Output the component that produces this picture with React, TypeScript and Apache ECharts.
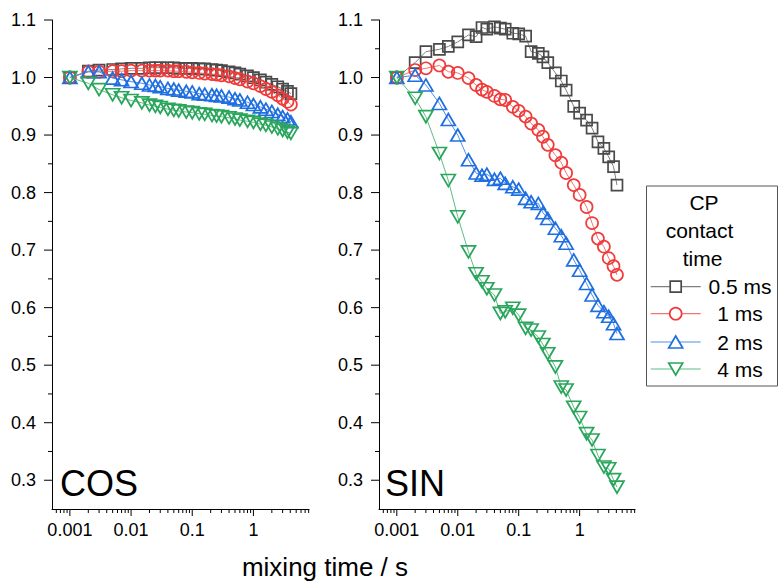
import React, { useEffect, useRef } from "react";
import * as echarts from "echarts";

// ---- data ----
const mixingTime = [0.001, 0.002, 0.003, 0.005, 0.007, 0.01, 0.015, 0.02, 0.025, 0.03, 0.04, 0.05, 0.06, 0.08, 0.1, 0.13, 0.16, 0.21, 0.25, 0.3, 0.4, 0.5, 0.6, 0.8, 1.0, 1.3, 1.6, 2.0, 2.5, 3.0, 3.6, 4.1];

const cos05 = [1.0, 1.011, 1.013, 1.014, 1.015, 1.016, 1.016, 1.017, 1.017, 1.017, 1.017, 1.017, 1.016, 1.016, 1.016, 1.015, 1.015, 1.014, 1.013, 1.012, 1.010, 1.008, 1.006, 1.003, 1.000, 0.996, 0.992, 0.988, 0.984, 0.980, 0.976, 0.972];
const cos1 = [1.0, 1.010, 1.010, 1.011, 1.011, 1.012, 1.012, 1.012, 1.012, 1.012, 1.012, 1.011, 1.011, 1.010, 1.009, 1.008, 1.007, 1.006, 1.005, 1.004, 1.002, 0.999, 0.997, 0.993, 0.990, 0.985, 0.980, 0.975, 0.969, 0.963, 0.958, 0.953];
const cos2 = [1.0, 1.010, 1.010, 0.999, 0.996, 0.993, 0.990, 0.987, 0.986, 0.984, 0.981, 0.980, 0.978, 0.976, 0.975, 0.972, 0.971, 0.970, 0.969, 0.968, 0.966, 0.963, 0.961, 0.957, 0.953, 0.949, 0.945, 0.941, 0.936, 0.932, 0.928, 0.923];
const cos4 = [1.0, 0.990, 0.979, 0.970, 0.965, 0.960, 0.956, 0.952, 0.950, 0.948, 0.945, 0.943, 0.942, 0.940, 0.939, 0.937, 0.936, 0.934, 0.933, 0.932, 0.930, 0.928, 0.926, 0.924, 0.922, 0.919, 0.917, 0.914, 0.911, 0.908, 0.905, 0.903];

const sin05 = [1.0, 1.026, 1.045, 1.049, 1.054, 1.062, 1.074, 1.071, 1.087, 1.084, 1.088, 1.086, 1.084, 1.077, 1.076, 1.072, 1.045, 1.042, 1.036, 1.026, 1.008, 0.994, 0.978, 0.950, 0.938, 0.926, 0.912, 0.888, 0.877, 0.862, 0.845, 0.813];
const sin1 = [1.0, 1.013, 1.016, 1.021, 1.010, 1.008, 0.999, 0.987, 0.979, 0.975, 0.968, 0.962, 0.961, 0.949, 0.942, 0.932, 0.920, 0.909, 0.897, 0.883, 0.865, 0.852, 0.834, 0.813, 0.796, 0.775, 0.747, 0.720, 0.706, 0.686, 0.672, 0.657];
const sin2 = [1.0, 1.004, 0.987, 0.955, 0.927, 0.900, 0.857, 0.834, 0.830, 0.832, 0.823, 0.825, 0.816, 0.810, 0.806, 0.790, 0.784, 0.781, 0.765, 0.755, 0.738, 0.725, 0.712, 0.683, 0.665, 0.642, 0.622, 0.604, 0.593, 0.585, 0.572, 0.555];
const sin4 = [1.0, 0.964, 0.932, 0.868, 0.821, 0.758, 0.697, 0.659, 0.645, 0.633, 0.622, 0.590, 0.593, 0.599, 0.587, 0.564, 0.561, 0.549, 0.536, 0.520, 0.497, 0.462, 0.457, 0.427, 0.409, 0.381, 0.370, 0.343, 0.323, 0.320, 0.301, 0.288];

const seriesNames = ["0.5 ms", "1 ms", "2 ms", "4 ms"];
const panelNames = ["COS", "SIN"];
const legendTitle = ["CP", "contact", "time"];
const xTickValues = [0.001, 0.01, 0.1, 1];
const xTickLabels = ["0.001", "0.01", "0.1", "1"];
const yTickValues = [0.3, 0.4, 0.5, 0.6, 0.7, 0.8, 0.9, 1.0, 1.1];
const xAxisTitle = "mixing time / s";

// ---- axis ranges ----
const X_MIN = 0.00051;
const X_MAX = 8.1;
const Y_MIN = 0.25;
const Y_MAX = 1.1;

const FONT = '"Liberation Sans", Arial, Helvetica, sans-serif';

const styles = [
  { symbol: "rect", size: 11, rotate: 0, color: "#4a4a4a", line: "#808080" },
  { symbol: "circle", size: 12, rotate: 0, color: "#f03b3b", line: "#f07575" },
  { symbol: "triangle", size: [14, 12], rotate: 0, color: "#1f6fe0", line: "#4f8de8" },
  { symbol: "triangle", size: [14, 12], rotate: 180, color: "#2aa55c", line: "#5cbd82" },
];

const panelData = [
  [cos05, cos1, cos2, cos4],
  [sin05, sin1, sin2, sin4],
];

const grids = [
  { left: 52, top: 20, width: 257, height: 489 },
  { left: 379, top: 20, width: 256, height: 489 },
];

function buildTicks() {
  const d: number[][] = [];
  xTickValues.forEach((v) => d.push([v, Y_MIN, 0]));
  for (let k = -4; k <= 0; k++) {
    for (let m = 2; m <= 9; m++) {
      const v = m * Math.pow(10, k);
      if (v > X_MIN && v < X_MAX) d.push([v, Y_MIN, 1]);
    }
  }
  yTickValues.forEach((v) => d.push([X_MIN, v, 2]));
  for (let i = 0; i < yTickValues.length - 1; i++) {
    d.push([X_MIN, (yTickValues[i] + yTickValues[i + 1]) / 2, 3]);
  }
  return d;
}

function buildOption() {
  const tickData = buildTicks();
  const xAxis = grids.map((_, g) => ({
    type: "log",
    logBase: 10,
    gridIndex: g,
    min: X_MIN,
    max: X_MAX,
    axisLine: { show: true, onZero: false, lineStyle: { color: "#000", width: 1 } },
    axisTick: { show: false },
    minorTick: { show: false },
    splitLine: { show: false },
    axisLabel: {
      fontSize: 18,
      fontFamily: FONT,
      color: "#000",
      margin: 12,
      formatter: (v: number) => {
        const l = Math.log10(v);
        const r = Math.round(l);
        if (Math.abs(l - r) < 1e-6) {
          const idx = xTickValues.findIndex((t) => Math.abs(Math.log10(t) - r) < 1e-6);
          return idx >= 0 ? xTickLabels[idx] : "";
        }
        return "";
      },
    },
  }));
  const yAxis = grids.map((_, g) => ({
    type: "value",
    gridIndex: g,
    min: Y_MIN,
    max: Y_MAX,
    interval: 0.05,
    axisLine: { show: true, lineStyle: { color: "#000", width: 1 } },
    axisTick: { show: false },
    splitLine: { show: false },
    axisLabel: {
      fontSize: 18,
      fontFamily: FONT,
      color: "#000",
      margin: 16,
      formatter: (v: number) => {
        const k = Math.round(v * 10);
        if (Math.abs(v * 10 - k) < 1e-6) return (k / 10).toFixed(1);
        return "";
      },
    },
  }));

  const series: any[] = [];
  grids.forEach((_, g) => {
    panelData[g].forEach((vals, s) => {
      const st = styles[s];
      series.push({
        type: "line",
        name: seriesNames[s],
        xAxisIndex: g,
        yAxisIndex: g,
        data: mixingTime.map((t, i) => [t, vals[i]]),
        symbol: st.symbol,
        symbolSize: st.size,
        symbolRotate: st.rotate,
        showAllSymbol: true,
        lineStyle: { color: st.line, width: 1 },
        itemStyle: { color: "rgba(255,255,255,0)", borderColor: st.color, borderWidth: 1.7 },
        emphasis: { disabled: true },
        z: 2 + s,
      });
    });
    series.push({
      type: "custom",
      xAxisIndex: g,
      yAxisIndex: g,
      silent: true,
      clip: false,
      z: 10,
      encode: { x: 0, y: 1 },
      data: tickData,
      renderItem: (params: any, api: any) => {
        const kind = api.value(2);
        const p = api.coord([api.value(0), api.value(1)]);
        let shape;
        if (kind === 0) shape = { x1: p[0], y1: p[1], x2: p[0], y2: p[1] + 7 };
        else if (kind === 1) shape = { x1: p[0], y1: p[1], x2: p[0], y2: p[1] + 4 };
        else if (kind === 2) shape = { x1: p[0] - 8, y1: p[1], x2: p[0], y2: p[1] };
        else shape = { x1: p[0] - 4, y1: p[1], x2: p[0], y2: p[1] };
        return { type: "line", shape, style: { stroke: "#000", lineWidth: 1 } };
      },
    });
  });

  // legend + texts
  const graphic: any[] = [];
  graphic.push({
    type: "text",
    x: 60,
    y: 483.5,
    style: { text: panelNames[0], fill: "#000", font: `36px ${FONT}`, textAlign: "left", textVerticalAlign: "middle" },
  });
  graphic.push({
    type: "text",
    x: 385,
    y: 483.5,
    style: { text: panelNames[1], fill: "#000", font: `36px ${FONT}`, textAlign: "left", textVerticalAlign: "middle" },
  });
  graphic.push({
    type: "text",
    x: 325,
    y: 567,
    style: { text: xAxisTitle, fill: "#000", font: `26px ${FONT}`, textAlign: "center", textVerticalAlign: "middle" },
  });
  graphic.push({
    type: "rect",
    shape: { x: 646.5, y: 186, width: 131, height: 200 },
    style: { fill: "#fff", stroke: "#555", lineWidth: 1 },
    z: 20,
  });
  const titleX = [704, 699.5, 702.5];
  const titleY = [202.5, 230, 258];
  legendTitle.forEach((t, i) => {
    graphic.push({
      type: "text",
      x: titleX[i],
      y: titleY[i],
      z: 21,
      style: { text: t, fill: "#000", font: `21px ${FONT}`, textAlign: "center", textVerticalAlign: "middle" },
    });
  });
  const itemY = [286.7, 313.7, 342, 369];
  seriesNames.forEach((nm, i) => {
    const st = styles[i];
    const cy = itemY[i];
    const cx = 675.7;
    graphic.push({
      type: "line",
      z: 21,
      shape: { x1: 650.7, y1: cy, x2: 700.7, y2: cy },
      style: { stroke: st.line, lineWidth: 1.2 },
    });
    let marker: any;
    const mstyle = { fill: "#fff", stroke: st.color, lineWidth: 1.7 };
    if (i === 0) marker = { type: "rect", shape: { x: cx - 5.5, y: cy - 5.5, width: 11, height: 11 }, style: mstyle };
    else if (i === 1) marker = { type: "circle", shape: { cx, cy, r: 6 }, style: mstyle };
    else if (i === 2)
      marker = { type: "polygon", shape: { points: [[cx, cy - 6], [cx + 7, cy + 6], [cx - 7, cy + 6]] }, style: mstyle };
    else
      marker = { type: "polygon", shape: { points: [[cx, cy + 6], [cx + 7, cy - 6], [cx - 7, cy - 6]] }, style: mstyle };
    marker.z = 22;
    graphic.push(marker);
    graphic.push({
      type: "text",
      x: 740,
      y: cy,
      z: 21,
      style: { text: nm, fill: "#000", font: `21px ${FONT}`, textAlign: "center", textVerticalAlign: "middle" },
    });
  });

  return {
    animation: false,
    backgroundColor: "#fff",
    grid: grids.map((g) => ({ ...g, containLabel: false })),
    xAxis,
    yAxis,
    series,
    graphic,
  };
}

export default function App() {
  const ref = useRef<HTMLDivElement>(null);
  useEffect(() => {
    document.body.style.margin = "0";
    const chart = echarts.init(ref.current!, null, { renderer: "svg" });
    chart.setOption(buildOption() as any);
    return () => chart.dispose();
  }, []);
  return <div ref={ref} style={{ width: 779, height: 581 }} />;
}
